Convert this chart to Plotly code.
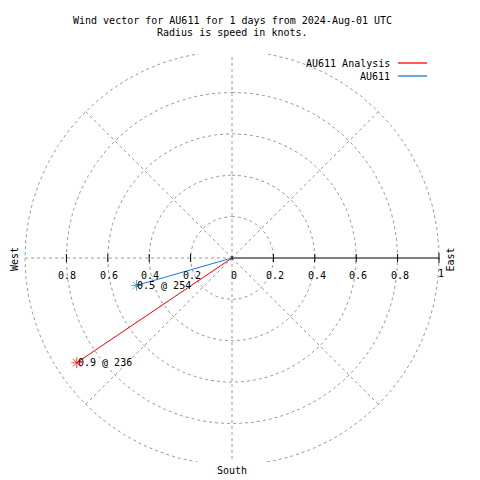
import numpy as np
import plotly.graph_objects as go

# ---- data ----
series_names = ["AU611 Analysis", "AU611"]
speeds = [0.905, 0.48]       # knots
directions = [236, 254]      # degrees (compass)
series_colors = ["#ff0000", "#1a78e0"]

ring_values = [0.2, 0.4, 0.6, 0.8, 1.0]
spoke_angles = [0, 45, 90, 135, 180, 225, 270, 315]
tick_values = [0.2, 0.4, 0.6, 0.8]
left_tick_labels = ["0.2", "0.4", "0.6", "0.8"]
right_tick_labels = ["0.2", "0.4", "0.6", "0.8", "1"]

title_lines = ["Wind vector for AU611 for 1 days from 2024-Aug-01 UTC",
               "Radius is speed in knots."]

# ---- layout geometry ----
W, H = 480, 480
L, R, T, B = 12, 28, 54, 18
PW, PH = W - L - R, H - T - B
CX, CY = 232, 258
S = 207.0  # px per unit
x0 = (L - CX) / S
x1 = (W - R - CX) / S
y1 = (CY - T) / S
y0 = -(H - B - CY) / S


def px(xp):
    return (xp - L) / PW


def py(yp):
    return 1 - (yp - T) / PH


FONT = dict(family="DejaVu Sans Mono", size=10, color="black")
GRID = dict(color="#9a9a9a", width=1, dash="3px,3px")

fig = go.Figure()
shapes = []
annotations = []

# grid rings (as traces so they are clipped to the plot area)
phi = np.linspace(0, 2 * np.pi, 721)
for r in ring_values:
    fig.add_trace(go.Scatter(x=r * np.sin(phi), y=r * np.cos(phi), mode="lines",
                             line=GRID, hoverinfo="skip", showlegend=False))
# spokes
for a in spoke_angles:
    if a == 90:
        continue  # east drawn as solid axis
    th = np.deg2rad(a)
    fig.add_trace(go.Scatter(x=[0, np.sin(th)], y=[0, np.cos(th)], mode="lines",
                             line=GRID, hoverinfo="skip", showlegend=False))
# east axis line
shapes.append(dict(type="line", xref="x", yref="y", x0=0, y0=0, x1=1, y1=0,
                   line=dict(color="black", width=1.2)))
# tick marks
tk = 4 / S
for v in tick_values:
    for sgn in (-1, 1):
        shapes.append(dict(type="line", xref="x", yref="y", x0=sgn * v, x1=sgn * v,
                           y0=-tk, y1=tk, line=dict(color="black", width=1)))
shapes.append(dict(type="line", xref="x", yref="y", x0=1, x1=1, y0=-5 / S, y1=5 / S,
                   line=dict(color="black", width=1)))
shapes.append(dict(type="line", xref="x", yref="y", x0=0, x1=0, y0=-2 / S, y1=2 / S,
                   line=dict(color="black", width=1)))

# tick labels
lab_y = -17 / S
for v, t in zip(tick_values, left_tick_labels):
    annotations.append(dict(x=-v, y=lab_y, text=t, xref="x", yref="y", showarrow=False,
                            font=FONT, xanchor="center", yanchor="middle", xshift=1))
annotations.append(dict(x=0, y=lab_y, text="0", xref="x", yref="y", showarrow=False,
                        font=FONT, xanchor="center", yanchor="middle", xshift=2))
for v, t in zip(tick_values + [1.0], right_tick_labels):
    annotations.append(dict(x=v, y=lab_y, text=t, xref="x", yref="y", showarrow=False,
                            font=FONT, xanchor="center", yanchor="middle", xshift=2,
                            yshift=2 if t == "1" else 0))

# compass labels
annotations.append(dict(x=px(14), y=py(259), xref="paper", yref="paper", text="West",
                        textangle=-90, showarrow=False, font=FONT,
                        xanchor="center", yanchor="middle"))
annotations.append(dict(x=px(449.5), y=py(260), xref="paper", yref="paper", text="East",
                        textangle=-90, showarrow=False, font=FONT,
                        xanchor="center", yanchor="middle"))
annotations.append(dict(x=px(232), y=py(471), xref="paper", yref="paper", text="South",
                        showarrow=False, font=FONT, xanchor="center", yanchor="middle"))

# title
for i, line in enumerate(title_lines):
    annotations.append(dict(x=px(232), y=py(20 + 13 * i), xref="paper", yref="paper",
                            text=line, showarrow=False, font=FONT,
                            xanchor="center", yanchor="middle"))

# data vectors
for i, (name, spd, d, col) in enumerate(zip(series_names, speeds, directions, series_colors)):
    th = np.deg2rad(d)
    xe, ye = spd * np.sin(th), spd * np.cos(th)
    fig.add_trace(go.Scatter(x=[0, xe], y=[0, ye], mode="lines+markers", name=name,
                             line=dict(color=col, width=1),
                             marker=dict(symbol="asterisk-open", size=[0, 9],
                                         color=col, line=dict(color=col, width=1)),
                             showlegend=False, hoverinfo="skip"))
    annotations.append(dict(x=xe, y=ye, xref="x", yref="y", text=f"{spd:.1f} @ {d}",
                            showarrow=False, font=FONT, xanchor="left",
                            yanchor="middle", xshift=-1))
    # manual legend
    ly = 63 + 13 * i
    annotations.append(dict(x=px(392), y=py(ly), xref="paper", yref="paper", text=name,
                            showarrow=False, font=FONT, xanchor="right", yanchor="middle"))
    shapes.append(dict(type="line", xref="paper", yref="paper", x0=px(398), x1=px(427),
                       y0=py(ly), y1=py(ly), line=dict(color=col, width=1.3)))

fig.update_layout(
    width=W, height=H,
    margin=dict(l=L, r=R, t=T, b=B),
    paper_bgcolor="white", plot_bgcolor="white",
    xaxis=dict(range=[x0, x1], visible=False, fixedrange=True),
    yaxis=dict(range=[y0, y1], visible=False, fixedrange=True),
    shapes=shapes, annotations=annotations,
    showlegend=False,
)

fig.write_html("out.html", config={"displayModeBar": False},
               post_script="document.body.style.margin='0px';document.body.style.overflow='hidden';")
